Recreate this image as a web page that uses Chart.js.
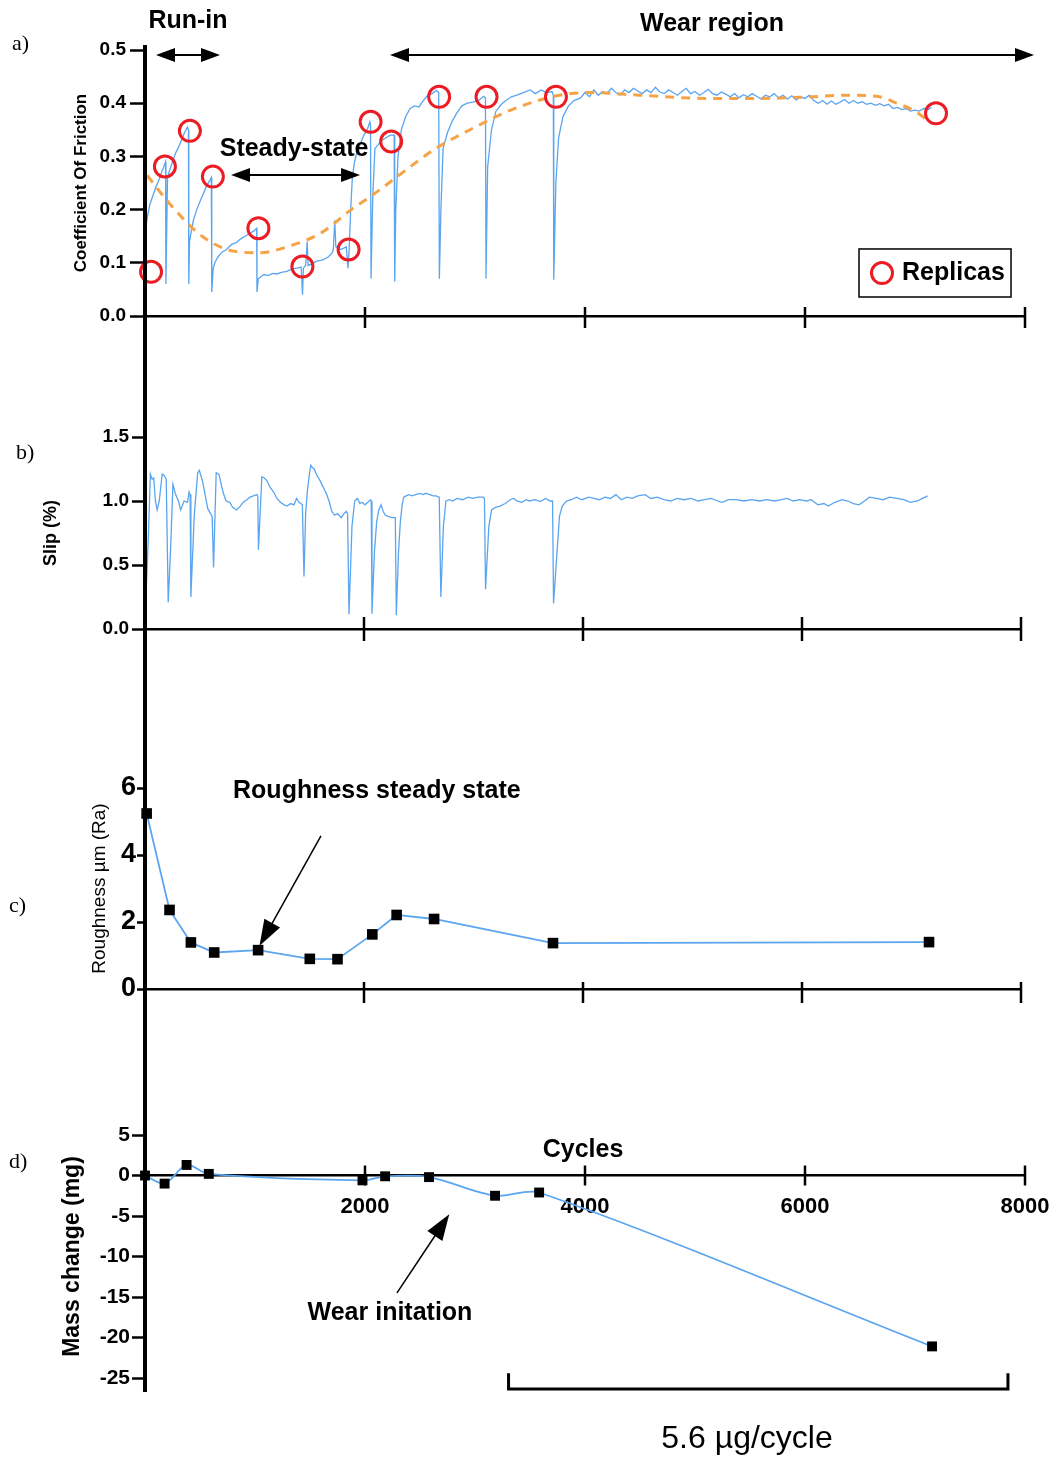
<!DOCTYPE html>
<html>
<head>
<meta charset="utf-8">
<script src="https://cdn.jsdelivr.net/npm/chart.js@4.4.1/dist/chart.umd.min.js"></script>
<style>
  html, body { margin: 0; padding: 0; background: #fff; }
  #page { position: relative; width: 1057px; height: 1460px; }
  canvas { position: absolute; left: 0; }
</style>
</head>
<body>
<div id="page">
  <canvas id="cA" width="1057" height="380" style="top:0px"></canvas>
  <canvas id="cB" width="1057" height="320" style="top:380px"></canvas>
  <canvas id="cC" width="1057" height="340" style="top:700px"></canvas>
  <canvas id="cD" width="1057" height="420" style="top:1040px"></canvas>
</div>
<script>
// ---- data (cycles, value) ----
const xTicks = [0, 2000, 4000, 6000, 8000];
const cofTicks = [0, 0.1, 0.2, 0.3, 0.4, 0.5];
const slipTicks = [0, 0.5, 1.0, 1.5];
const roughTicks = [0, 2, 4, 6];
const massTicks = [-25, -20, -15, -10, -5, 0, 5];

// a) coefficient of friction trace
const cofTrace = [[0,0.15],[10,0.17],[25,0.19],[45,0.21],[70,0.225],[95,0.24],[125,0.255],[150,0.27],[170,0.28],[187,0.29],[190,0.06],[198,0.17],[205,0.26],
  [225,0.275],[250,0.29],[275,0.305],[300,0.315],[330,0.33],[360,0.345],[386,0.355],[395,0.35],[398,0.06],[405,0.14],
  [417,0.155],[440,0.18],[470,0.2],[500,0.215],[530,0.23],[560,0.245],[590,0.255],[603,0.26],[607,0.045],[620,0.09],[635,0.1],
  [660,0.11],[700,0.12],[740,0.125],[790,0.135],[830,0.138],[870,0.145],[910,0.15],[950,0.155],[990,0.16],[1015,0.165],[1018,0.045],[1030,0.07],
  [1047,0.073],[1080,0.078],[1120,0.076],[1160,0.08],[1200,0.079],[1240,0.082],[1290,0.084],[1330,0.088],[1380,0.09],[1420,0.092],[1432,0.04],[1440,0.09],
  [1460,0.095],[1475,0.14],[1482,0.095],[1520,0.098],[1560,0.103],[1610,0.105],[1660,0.11],[1700,0.118],[1712,0.125],[1725,0.18],[1735,0.13],[1780,0.125],
  [1830,0.13],[1845,0.09],[1855,0.12],[1870,0.2],[1885,0.26],[1905,0.29],[1930,0.31],[1960,0.325],[1990,0.34],[2020,0.35],[2045,0.365],[2050,0.36],[2055,0.07],
  [2070,0.22],[2090,0.315],[2120,0.322],[2150,0.33],[2190,0.335],[2230,0.34],[2265,0.34],[2270,0.065],[2280,0.2],[2300,0.3],[2330,0.35],[2370,0.375],
  [2410,0.39],[2450,0.395],[2490,0.393],[2530,0.405],[2570,0.415],[2610,0.418],[2650,0.424],[2670,0.42],[2676,0.07],[2690,0.2],[2710,0.315],[2750,0.345],
  [2790,0.365],[2830,0.38],[2880,0.395],[2930,0.4],[2980,0.402],[3030,0.405],[3080,0.413],[3095,0.41],[3100,0.07],[3115,0.28],[3150,0.35],[3190,0.385],
  [3240,0.398],[3280,0.405],[3330,0.412],[3380,0.415],[3440,0.42],[3500,0.425],[3550,0.418],[3600,0.425],[3650,0.42],[3700,0.422],[3712,0.415],[3716,0.068],
  [3735,0.25],[3760,0.335],[3800,0.375],[3850,0.395],[3900,0.405],[3960,0.41],[4000,0.42],[4040,0.412],[4080,0.425],[4120,0.415],[4160,0.422],[4200,0.418],
  [4240,0.428],[4280,0.42],[4320,0.415],[4360,0.425],[4400,0.42],[4440,0.428],[4480,0.423],[4520,0.418],[4560,0.425],[4600,0.42],[4640,0.43],[4680,0.421],
  [4720,0.418],[4760,0.425],[4800,0.42],[4840,0.415],[4880,0.422],[4920,0.428],[4960,0.418],[5000,0.422],[5040,0.415],[5080,0.42],[5120,0.426],[5160,0.418],
  [5200,0.415],[5240,0.421],[5280,0.417],[5320,0.412],[5360,0.418],[5400,0.41],[5440,0.416],[5480,0.412],[5520,0.418],[5560,0.413],[5600,0.408],[5640,0.415],
  [5680,0.412],[5720,0.418],[5760,0.41],[5800,0.415],[5840,0.408],[5880,0.414],[5920,0.406],[5960,0.412],[6000,0.409],[6040,0.415],[6080,0.405],[6120,0.4],
  [6160,0.405],[6200,0.398],[6240,0.404],[6280,0.398],[6320,0.402],[6360,0.407],[6400,0.4],[6440,0.405],[6480,0.4],[6520,0.403],[6560,0.398],[6600,0.4],
  [6640,0.396],[6680,0.399],[6720,0.395],[6760,0.398],[6800,0.39],[6840,0.392],[6880,0.388],[6920,0.39],[6960,0.385],[7000,0.387],[7040,0.385],[7080,0.39],
  [7120,0.388],[7150,0.392]];

// a) fitted trend (orange dashed)
const cofFit = [[20,0.264],[216,0.213],[525,0.149],[832,0.121],[1047,0.119],[1292,0.13],[1600,0.156],[1875,0.2],[2060,0.226],[2306,0.264],
  [2644,0.315],[2982,0.353],[3289,0.384],[3497,0.4],[3717,0.413],[4032,0.42],[4500,0.415],[5118,0.409],[5588,0.409],[6055,0.412],[6364,0.415],
  [6678,0.412],[6833,0.4],[7000,0.385],[7145,0.362]];

// a) replica sampling points
const replicas = [[55,0.083],[181,0.281],[408,0.348],[617,0.262],[1031,0.165],[1431,0.093],[1851,0.125],[2051,0.365],[2238,0.328],
  [2674,0.412],[3105,0.412],[3736,0.412],[7191,0.381]];

// b) slip trace
const slipTrace = [[3,0.14],[30,0.7],[49,1.21],[65,1.17],[80,1.18],[95,1.0],[111,0.93],[130,1.0],[157,1.21],[175,1.2],[194,1.17],[212,0.21],[234,0.63],
  [255,1.13],[280,1.05],[305,1.0],[326,0.93],[357,1.0],[388,0.99],[403,1.07],[412,1.05],[419,0.25],[450,0.89],[481,1.22],[496,1.24],[527,1.15],[573,0.94],
  [600,0.9],[613,0.88],[626,0.48],[650,1.22],[675,1.21],[712,1.07],[740,1.0],[774,0.99],[800,0.95],[836,0.93],[870,0.96],[897,0.99],[930,1.01],[959,1.03],
  [990,1.04],[1021,1.05],[1030,1.04],[1036,0.62],[1067,1.19],[1090,1.18],[1113,1.16],[1140,1.11],[1175,1.07],[1205,1.02],[1237,0.99],[1270,0.97],[1298,0.96],
  [1330,0.98],[1360,0.97],[1385,1.02],[1406,0.99],[1425,0.98],[1437,0.97],[1452,0.41],[1467,0.9],[1483,1.08],[1500,1.2],[1514,1.28],[1530,1.26],[1545,1.25],
  [1570,1.2],[1592,1.17],[1615,1.13],[1638,1.09],[1660,1.05],[1684,0.99],[1705,0.92],[1731,0.89],[1760,0.9],[1792,0.87],[1815,0.9],[1838,0.92],[1850,0.9],
  [1863,0.115],[1890,0.8],[1915,1.0],[1940,1.02],[1962,0.98],[1985,0.99],[2008,0.97],[2035,0.99],[2060,1.01],[2066,1.0],[2073,0.12],[2095,0.6],[2116,0.84],
  [2135,0.93],[2156,0.97],[2175,0.92],[2193,0.89],[2220,0.88],[2255,0.87],[2286,0.87],[2295,0.107],[2315,0.6],[2332,0.84],[2350,0.98],[2363,1.03],[2385,1.04],
  [2409,1.05],[2440,1.04],[2470,1.05],[2510,1.06],[2540,1.05],[2563,1.06],[2600,1.05],[2630,1.04],[2656,1.04],[2687,1.03],[2702,0.25],[2725,0.8],[2748,1.0],
  [2780,1.01],[2810,1.0],[2850,1.02],[2902,1.01],[2950,1.03],[2995,1.02],[3040,1.03],[3088,1.03],[3100,1.02],[3110,0.31],[3140,0.8],[3165,0.93],[3200,0.95],
  [3242,0.96],[3290,0.98],[3335,1.01],[3370,1.02],[3396,1.0],[3440,0.99],[3480,1.01],[3513,1.0],[3560,1.01],[3610,0.995],[3660,1.02],[3700,1.0],[3722,1.0],
  [3731,0.2],[3785,0.88],[3810,0.96],[3850,1.0],[3894,1.01],[3940,1.03],[3990,1.01],[4050,1.03],[4100,1.02],[4150,1.01],[4200,1.03],[4250,1.02],[4300,1.05],
  [4350,1.01],[4400,1.03],[4450,1.02],[4500,1.04],[4566,1.05],[4620,1.02],[4680,1.03],[4740,1.01],[4801,1.0],[4860,1.02],[4920,1.01],[4988,1.02],[5050,1.0],
  [5110,1.01],[5170,1.02],[5230,1.0],[5269,0.99],[5330,1.01],[5400,1.01],[5470,1.0],[5540,1.01],[5614,1.0],[5680,1.01],[5750,1.0],[5810,1.01],[5864,1.02],
  [5920,1.0],[5980,1.01],[6040,1.0],[6083,1.01],[6146,0.97],[6200,0.98],[6240,0.96],[6300,0.99],[6364,1.01],[6420,1.0],[6470,0.98],[6521,0.97],[6570,1.0],
  [6615,1.03],[6680,1.02],[6740,1.01],[6800,1.03],[6865,1.02],[6930,1.01],[6990,0.99],[7053,1.0],[7100,1.02],[7146,1.04]];

// c) roughness
const roughCycles = [15, 224, 419, 632, 1033, 1505, 1758, 2076, 2298, 2640, 3726, 7160];
const roughValues = [5.24, 2.36, 1.39, 1.09, 1.16, 0.9, 0.89, 1.63, 2.21, 2.09, 1.37, 1.4];

// d) mass change
const massCycles = [0, 178, 378, 580, 1977, 2183, 2582, 3182, 3583, 7155];
const massValues = [0, -1.0, 1.3, 0.2, -0.6, -0.1, -0.2, -2.5, -2.1, -21.1];

// ---- styling ----
const FONT = "'Liberation Sans', Arial, Helvetica, sans-serif";
const SERIF = "'Liberation Serif', 'Times New Roman', serif";
const BLUE = '#5aa5ef';
const ORANGE = '#f6a347';
const RED = '#ec1c24';
const AXIS_LEFT = 145;

Chart.defaults.font.family = FONT;
Chart.defaults.color = '#000';

const pts = arr => arr.map(p => ({ x: p[0], y: p[1] }));
const zip = (xs, ys) => xs.map((x, i) => ({ x: x, y: ys[i] }));

function yScale(min, max, ticks, fmt, tickFont, tickLen, tickPad, title, titleFont, titlePad) {
  return {
    type: 'linear', min: min, max: max,
    afterBuildTicks: s => { s.ticks = ticks.map(v => ({ value: v })); },
    afterFit: s => { s.width = AXIS_LEFT; },
    ticks: { callback: fmt, color: '#000', font: tickFont, padding: tickPad },
    grid: { display: true, drawOnChartArea: false, drawTicks: true, tickLength: tickLen, tickWidth: 2.5, tickColor: '#000' },
    border: { display: true, color: '#000', width: 4 },
    title: { display: true, text: title, color: '#000', font: titleFont, padding: { top: titlePad, bottom: 0 } }
  };
}

function xHidden() {
  return {
    type: 'linear', min: 0, max: 8000,
    afterBuildTicks: s => { s.ticks = xTicks.map(v => ({ value: v })); },
    afterFit: s => { s.height = 20; },
    ticks: { display: false },
    grid: { display: false, drawTicks: false },
    border: { display: true, color: '#000', width: 2.5 }
  };
}

function baseOptions(padding, x, y) {
  return {
    responsive: false,
    animation: false,
    events: [],
    layout: { padding: padding },
    plugins: { legend: { display: false }, tooltip: { enabled: false } },
    scales: { x: x, y: y }
  };
}

// spine through all panels, crossing x ticks, panel letter
function frame(o) {
  return {
    id: 'frame',
    afterDraw(chart) {
      const { ctx, chartArea, scales } = chart;
      ctx.save();
      ctx.strokeStyle = '#000';
      ctx.lineWidth = 4;
      ctx.beginPath();
      ctx.moveTo(chartArea.left, o.spineFrom);
      ctx.lineTo(chartArea.left, o.spineTo);
      ctx.stroke();

      const ay = scales.y.getPixelForValue(o.axisAt);
      ctx.lineWidth = 2.5;
      xTicks.forEach(v => {
        const px = scales.x.getPixelForValue(v);
        ctx.beginPath();
        ctx.moveTo(px, ay - o.up);
        ctx.lineTo(px, ay + o.down);
        ctx.stroke();
      });

      ctx.fillStyle = '#000';
      ctx.font = '22px ' + SERIF;
      ctx.textAlign = 'left';
      ctx.textBaseline = 'middle';
      ctx.fillText(o.letter, o.lx, o.ly);
      ctx.restore();
    }
  };
}

function txt(ctx, s, x, y, font, align) {
  ctx.font = font;
  ctx.textAlign = align || 'center';
  ctx.textBaseline = 'middle';
  ctx.fillStyle = '#000';
  ctx.fillText(s, x, y);
}

function head(ctx, fx, fy, tx, ty, len, half) {
  const a = Math.atan2(ty - fy, tx - fx), c = Math.cos(a), s = Math.sin(a);
  const bx = tx - len * c, by = ty - len * s;
  ctx.beginPath();
  ctx.moveTo(tx, ty);
  ctx.lineTo(bx + half * s, by - half * c);
  ctx.lineTo(bx - half * s, by + half * c);
  ctx.closePath();
  ctx.fill();
  return [bx + 2 * c, by + 2 * s];
}

function arrow(ctx, fx, fy, tx, ty, o) {
  ctx.save();
  ctx.strokeStyle = '#000';
  ctx.fillStyle = '#000';
  ctx.lineWidth = o.w;
  const end = head(ctx, fx, fy, tx, ty, o.len, o.half);
  let start = [fx, fy];
  if (o.both) start = head(ctx, tx, ty, fx, fy, o.len, o.half);
  ctx.beginPath();
  ctx.moveTo(start[0], start[1]);
  ctx.lineTo(end[0], end[1]);
  ctx.stroke();
  ctx.restore();
}

const BOLD25 = 'bold 25px ' + FONT;

// ---- a) coefficient of friction ----
new Chart(document.getElementById('cA'), {
  type: 'line',
  data: {
    datasets: [
      { data: pts(replicas), showLine: false, pointStyle: 'circle', pointRadius: 10.5, pointBorderWidth: 3,
        pointBorderColor: RED, pointBackgroundColor: 'rgba(0,0,0,0)', order: 0, clip: false },
      { data: pts(cofFit), borderColor: ORANGE, borderWidth: 3, borderDash: [9, 7], pointRadius: 0,
        cubicInterpolationMode: 'monotone', order: 1 },
      { data: pts(cofTrace), borderColor: BLUE, borderWidth: 1.3, pointRadius: 0, tension: 0, order: 2 }
    ]
  },
  options: baseOptions({ top: 50, bottom: 44, left: 0, right: 32 }, xHidden(),
    yScale(0, 0.5, cofTicks, v => v.toFixed(1), { size: 19, weight: 'bold' }, 15, 4,
      'Coefficient Of Friction', { size: 17, weight: 'bold' }, 71)),
  plugins: [
    frame({ spineFrom: 45, spineTo: 380, axisAt: 0, up: 9, down: 12, letter: 'a)', lx: 12, ly: 44 }),
    {
      id: 'notesA',
      afterDraw(chart) {
        const ctx = chart.ctx, X = v => chart.scales.x.getPixelForValue(v), Y = v => chart.scales.y.getPixelForValue(v);
        ctx.save();
        txt(ctx, 'Run-in', X(391), Y(0.5545), BOLD25);
        arrow(ctx, X(100), Y(0.4906), X(682), Y(0.4906), { w: 2, len: 19, half: 7, both: true });
        txt(ctx, 'Wear region', X(5155), Y(0.549), BOLD25);
        arrow(ctx, X(2227), Y(0.4906), X(8082), Y(0.4906), { w: 2, len: 19, half: 7, both: true });
        txt(ctx, 'Steady-state', X(1355), Y(0.3146), BOLD25);
        arrow(ctx, X(782), Y(0.265), X(1955), Y(0.265), { w: 2, len: 19, half: 7, both: true });
        // legend box
        const l = X(6491), r = X(7873), t = Y(0.126), b = Y(0.0357);
        ctx.strokeStyle = '#000';
        ctx.lineWidth = 1.5;
        ctx.strokeRect(l, t, r - l, b - t);
        ctx.strokeStyle = RED;
        ctx.lineWidth = 3;
        ctx.beginPath();
        ctx.arc(X(6700), Y(0.0808), 10.5, 0, Math.PI * 2);
        ctx.stroke();
        txt(ctx, 'Replicas', X(6882), Y(0.0808), BOLD25, 'left');
        ctx.restore();
      }
    }
  ]
});

// ---- b) slip ----
new Chart(document.getElementById('cB'), {
  type: 'line',
  data: {
    datasets: [
      { data: pts(slipTrace), borderColor: BLUE, borderWidth: 1.3, pointRadius: 0, tension: 0 }
    ]
  },
  options: baseOptions({ top: 57, bottom: 51, left: 0, right: 36 }, xHidden(),
    yScale(0, 1.5, slipTicks, v => v.toFixed(1), { size: 19, weight: 'bold' }, 13, 3,
      'Slip (%)', { size: 18, weight: 'bold' }, 40)),
  plugins: [
    frame({ spineFrom: 0, spineTo: 320, axisAt: 0, up: 12, down: 12, letter: 'b)', lx: 16, ly: 73 })
  ]
});

// ---- c) roughness ----
new Chart(document.getElementById('cC'), {
  type: 'line',
  data: {
    datasets: [
      { data: zip(roughCycles, roughValues), borderColor: BLUE, borderWidth: 1.8, tension: 0,
        pointStyle: 'rect', pointRadius: 7.5, pointBackgroundColor: '#000', pointBorderColor: '#000',
        pointBorderWidth: 0, clip: false }
    ]
  },
  options: baseOptions({ top: 88, bottom: 31, left: 0, right: 36 }, xHidden(),
    yScale(0, 6, roughTicks, v => String(v), { size: 27, weight: 'bold' }, 8, 1,
      'Roughness µm (Ra)', { size: 19, weight: 'normal' }, 88)),
  plugins: [
    frame({ spineFrom: 0, spineTo: 340, axisAt: 0, up: 7, down: 14, letter: 'c)', lx: 9, ly: 206 }),
    {
      id: 'notesC',
      afterDraw(chart) {
        const ctx = chart.ctx, X = v => chart.scales.x.getPixelForValue(v), Y = v => chart.scales.y.getPixelForValue(v);
        ctx.save();
        txt(ctx, 'Roughness steady state', X(804), Y(5.91), BOLD25, 'left');
        arrow(ctx, X(1607), Y(4.57), X(1046), Y(1.29), { w: 1.5, len: 26, half: 9 });
        ctx.restore();
      }
    }
  ]
});

// ---- d) mass change ----
new Chart(document.getElementById('cD'), {
  type: 'line',
  data: {
    datasets: [
      { data: zip(massCycles, massValues), borderColor: BLUE, borderWidth: 1.8, tension: 0.3,
        pointStyle: 'rect', pointRadius: 7, pointBackgroundColor: '#000', pointBorderColor: '#000',
        pointBorderWidth: 0, clip: false }
    ]
  },
  options: baseOptions({ top: 95, bottom: 82, left: 0, right: 32 },
    {
      type: 'linear', min: 0, max: 8000, position: { y: 0 },
      afterBuildTicks: s => { s.ticks = xTicks.map(v => ({ value: v })); },
      afterFit: s => { s.paddingLeft = 0; s.paddingRight = 0; },
      ticks: { callback: v => (v === 0 ? '' : String(v)), font: { size: 22, weight: 'bold' }, color: '#000',
        padding: 18, maxRotation: 0, autoSkip: false },
      grid: { display: false, drawTicks: false },
      border: { display: true, color: '#000', width: 2.5 }
    },
    yScale(-25, 5, massTicks, v => String(v), { size: 21, weight: 'bold' }, 13, 2,
      'Mass change (mg)', { size: 23, weight: 'bold' }, 59)),
  plugins: [
    frame({ spineFrom: 0, spineTo: 352, axisAt: 0, up: 10, down: 10, letter: 'd)', lx: 9, ly: 122 }),
    {
      id: 'notesD',
      afterDraw(chart) {
        const ctx = chart.ctx, X = v => chart.scales.x.getPixelForValue(v), Y = v => chart.scales.y.getPixelForValue(v);
        ctx.save();
        txt(ctx, 'Cycles', X(3982), Y(3.08), BOLD25);
        txt(ctx, 'Wear initation', X(2227), Y(-17.0), BOLD25);
        arrow(ctx, X(2291), Y(-14.5), X(2766), Y(-4.79), { w: 1.5, len: 26, half: 9 });
        // bracket over the wear span
        ctx.strokeStyle = '#000';
        ctx.lineWidth = 3;
        ctx.beginPath();
        ctx.moveTo(X(3305), Y(-24.4));
        ctx.lineTo(X(3305), Y(-26.35));
        ctx.lineTo(X(7845), Y(-26.35));
        ctx.lineTo(X(7845), Y(-24.4));
        ctx.stroke();
        txt(ctx, '5.6 µg/cycle', X(5473), Y(-32.6), '32px ' + FONT);
        ctx.restore();
      }
    }
  ]
});
</script>
</body>
</html>
